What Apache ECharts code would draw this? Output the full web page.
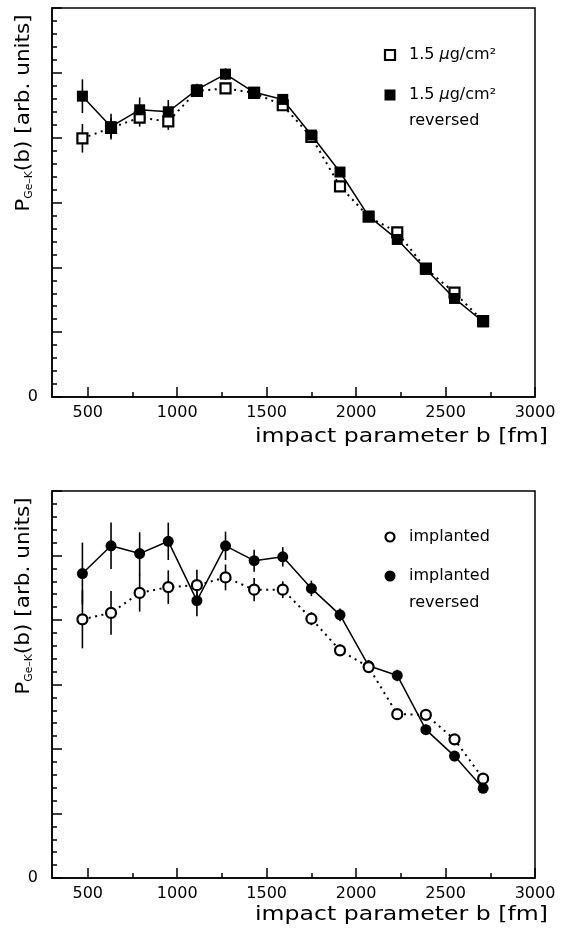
<!DOCTYPE html>
<html><head><meta charset="utf-8">
<script src="https://cdn.jsdelivr.net/npm/echarts@6/dist/echarts.min.js"></script>
<style>html,body{margin:0;padding:0;background:#fff}#c{width:566px;height:930px}</style>
</head><body><div id="c"></div>
<script>
// impact parameter b [fm]
const b = [470, 630, 790, 950, 1110, 1270, 1430, 1590, 1750, 1910, 2070, 2230, 2390, 2550, 2710];
// top panel: 1.5 ug/cm2 (open squares) and reversed (filled squares)
const topOpen      = [3.99, 4.15, 4.31, 4.25, 4.72, 4.76, 4.69, 4.50, 4.01, 3.25, 2.78, 2.54, 1.98, 1.61, 1.17];
const topOpenErr   = [0.22, 0.15, 0.14, 0.13, 0.08, 0.08, 0.07, 0.07, 0.07, 0.07, 0.06, 0.06, 0.06, 0.06, 0.06];
const topFilled    = [4.64, 4.17, 4.43, 4.40, 4.74, 4.98, 4.70, 4.59, 4.04, 3.47, 2.79, 2.43, 1.97, 1.52, 1.16];
const topFilledErr = [0.26, 0.20, 0.19, 0.18, 0.09, 0.09, 0.08, 0.08, 0.07, 0.07, 0.07, 0.06, 0.06, 0.06, 0.06];
// bottom panel: implanted (open circles) and implanted reversed (filled circles)
const botOpen      = [4.01, 4.11, 4.42, 4.51, 4.54, 4.66, 4.47, 4.47, 4.02, 3.53, 3.27, 2.54, 2.53, 2.15, 1.54];
const botOpenErr   = [0.45, 0.34, 0.29, 0.26, 0.24, 0.20, 0.18, 0.13, 0.10, 0.09, 0.09, 0.08, 0.08, 0.08, 0.07];
const botFilled    = [4.72, 5.15, 5.03, 5.22, 4.30, 5.15, 4.92, 4.98, 4.49, 4.08, 3.29, 3.14, 2.30, 1.89, 1.39];
const botFilledErr = [0.48, 0.36, 0.33, 0.29, 0.24, 0.22, 0.17, 0.15, 0.12, 0.10, 0.09, 0.09, 0.08, 0.08, 0.07];
// tick labels
const xMajor = [500, 1000, 1500, 2000, 2500, 3000];
const xMinor = [750, 1250, 1750, 2250, 2750];
const yLabels = ['0'];

const FONT = 'DejaVu Sans';
const BLACK = '#000';

function pairs(vals){ return b.map((x,i)=>[x, vals[i]]); }

function errSeries(ai, vals, errs){
  return {
    type:'custom', xAxisIndex: ai*2, yAxisIndex: ai, z: 1, silent: true,
    data: b.map((x,i)=>[x, vals[i], errs[i]]),
    encode: {x: 0, y: 1},
    renderItem: function(params, api){
      const p1 = api.coord([api.value(0), api.value(1) - api.value(2)]);
      const p2 = api.coord([api.value(0), api.value(1) + api.value(2)]);
      return {type:'line', shape:{x1:p1[0], y1:p1[1], x2:p2[0], y2:p2[1]},
              style:{stroke: BLACK, lineWidth: 1.6}};
    }
  };
}

function lineSeries(ai, vals, symbol, filled, size){
  return {
    type:'line', xAxisIndex: ai*2, yAxisIndex: ai, z: filled ? 4 : 3,
    data: pairs(vals), symbol: symbol, symbolSize: size, showAllSymbol: true,
    itemStyle: filled ? {color: BLACK} : {color:'#fff', borderColor: BLACK, borderWidth: 2.2},
    lineStyle: filled ? {color: BLACK, width: 1.5} : {color: BLACK, width: 2, type: [2, 4.5]},
    emphasis: {disabled: true}
  };
}

function xAxes(g){
  return [
    {type:'value', gridIndex:g, min:300, max:3000, position:'bottom',
     axisLine:{lineStyle:{color:BLACK, width:1.5}},
     axisTick:{inside:true, length:10, customValues:xMajor, lineStyle:{color:BLACK, width:1.5}},
     axisLabel:{customValues:xMajor, color:BLACK, fontSize:16, fontFamily:FONT, margin:8,
       formatter: v => String(v)},
     splitLine:{show:false}},
    {type:'value', gridIndex:g, min:300, max:3000, position:'bottom',
     axisLine:{show:false},
     axisTick:{inside:true, length:5, customValues:xMinor, lineStyle:{color:BLACK, width:1.5}},
     axisLabel:{show:false}, splitLine:{show:false}}
  ];
}
function yAxis(g){
  return {type:'value', gridIndex:g, min:0, max:6, interval:1,
    axisLine:{show:true, lineStyle:{color:BLACK, width:1.5}},
    axisTick:{show:true, inside:true, length:10, lineStyle:{color:BLACK, width:1.5}},
    minorTick:{show:true, splitNumber:5, length:5, lineStyle:{color:BLACK, width:1.5}},
    axisLabel:{color:BLACK, fontSize:16, fontFamily:FONT, margin:14,
      formatter: v => yLabels.indexOf(String(v)) >= 0 ? String(v) : ''},
    splitLine:{show:false}, minorSplitLine:{show:false}};
}

function yTitle(cy){
  return {type:'text', x:24, y:cy, rotation:Math.PI/2, scaleX:1.08,
    style:{text:'{p|P}{s|Ge–K}{p|(b) [arb. units]}', align:'center', verticalAlign:'middle',
      rich:{p:{fontSize:20, fontFamily:FONT, fill:BLACK},
            s:{fontSize:10, fontFamily:FONT, fill:BLACK, verticalAlign:'bottom'}}}};
}
function xTitle(cy){
  return {type:'text', x:548, y:cy, scaleX:1.18,
    style:{text:'impact parameter b [fm]', align:'right', verticalAlign:'middle',
      font:'20px "DejaVu Sans"', fill:BLACK}};
}
function legText(x, y, t, rich){
  const o = {type:'text', x:x, y:y, style:{text:t, align:'left', verticalAlign:'middle',
    font:'16px "DejaVu Sans"', fill:BLACK}};
  if (rich) o.style.rich = rich;
  return o;
}
const muRich = {n:{fontSize:16, fontFamily:FONT, fill:BLACK}, i:{fontSize:16, fontFamily:FONT, fontStyle:'italic', fill:BLACK}};

const option = {
  backgroundColor:'#fff',
  animation:false,
  grid:[
    {left:52, top:8, width:483, height:389, show:true, borderColor:BLACK, borderWidth:1.5, containLabel:false},
    {left:52, top:491, width:483, height:387, show:true, borderColor:BLACK, borderWidth:1.5, containLabel:false}
  ],
  xAxis: xAxes(0).concat(xAxes(1)),
  yAxis: [yAxis(0), yAxis(1)],
  series: [
    errSeries(0, topOpen, topOpenErr),
    errSeries(0, topFilled, topFilledErr),
    lineSeries(0, topOpen, 'rect', false, 10),
    lineSeries(0, topFilled, 'rect', true, 11),
    errSeries(1, botOpen, botOpenErr),
    errSeries(1, botFilled, botFilledErr),
    lineSeries(1, botFilled, 'circle', true, 11),
    Object.assign(lineSeries(1, botOpen, 'circle', false, 10), {z:5})
  ],
  graphic: [
    yTitle(113), yTitle(596),
    xTitle(437), xTitle(915),
    {type:'rect', x:390, y:55, shape:{x:-5, y:-5, width:10, height:10}, style:{fill:'#fff', stroke:BLACK, lineWidth:2.2}},
    legText(409, 55, '{n|1.5 }{i|μ}{n|g/cm²}', muRich),
    {type:'rect', x:390, y:95, shape:{x:-5.5, y:-5.5, width:11, height:11}, style:{fill:BLACK}},
    legText(409, 95, '{n|1.5 }{i|μ}{n|g/cm²}', muRich),
    legText(409, 121, 'reversed'),
    {type:'circle', x:390, y:537, shape:{cx:0, cy:0, r:4.5}, style:{fill:'#fff', stroke:BLACK, lineWidth:2.2}},
    legText(409, 537, 'implanted'),
    {type:'circle', x:390, y:576, shape:{cx:0, cy:0, r:5.5}, style:{fill:BLACK}},
    legText(409, 576, 'implanted'),
    legText(409, 603, 'reversed')
  ]
};
const chart = echarts.init(document.getElementById('c'), null, {renderer:'canvas'});
chart.setOption(option);
</script></body></html>
